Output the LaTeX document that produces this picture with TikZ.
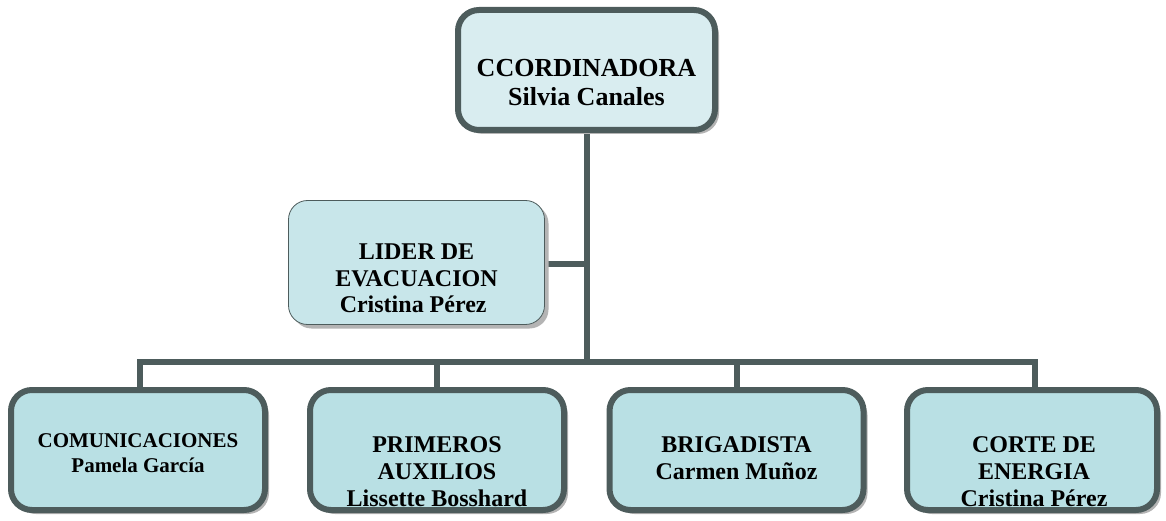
\documentclass[tikz,border=0pt]{standalone}
\usepackage{fontspec}
\setmainfont{Liberation Serif}
\usetikzlibrary{shadows,backgrounds}
\definecolor{edge}{HTML}{4D5C5C}
\definecolor{topfill}{HTML}{D9EDF0}
\definecolor{midfill}{HTML}{C8E6EA}
\definecolor{botfill}{HTML}{B9E0E4}
\definecolor{shade}{HTML}{B4B4B4}
\tikzset{
  boxshadow/.style={drop shadow={shadow xshift=4pt, shadow yshift=-4pt, fill=shade, opacity=1}},
  heavybox/.style={draw=edge, line width=6pt, rounded corners=21pt, boxshadow, inner sep=0pt},
  lightbox/.style={draw=edge, line width=0.8pt, rounded corners=19pt, boxshadow, fill=midfill, inner sep=0pt},
  label/.style={anchor=north, align=center, inner sep=0pt, font=\bfseries\fontsize{24}{27}\selectfont},
  link/.style={draw=edge, line width=6pt}
}
\begin{document}
\begin{tikzpicture}[x=1pt,y=-1pt]
\useasboundingbox (0,0) rectangle (1166,521);
% boxes
\node[heavybox, fill=topfill, minimum width=257pt, minimum height=120pt] (top) at (586.5,70) {};
\node[lightbox, minimum width=256pt, minimum height=124pt] (lider) at (416.5,262.5) {};
\node[heavybox, fill=botfill, minimum width=254pt, minimum height=120pt] (b1) at (138,450) {};
\node[heavybox, fill=botfill, minimum width=254pt, minimum height=120pt] (b2) at (437,450) {};
\node[heavybox, fill=botfill, minimum width=254pt, minimum height=120pt] (b3) at (736.5,450) {};
\node[heavybox, fill=botfill, minimum width=250pt, minimum height=120pt] (b4) at (1032,450) {};
% texts
\node[label, font=\bfseries\fontsize{26}{29}\selectfont] (tTop) at (586.5,59.5) {CCORDINADORA\\Silvia Canales};
\node[label, font=\bfseries\fontsize{24}{26.5}\selectfont] (tLider) at (416.5,244) {LIDER DE\\EVACUACION\\Cristina Pérez\hphantom{i}};
\node[label, font=\bfseries\fontsize{21}{25}\selectfont] (t1) at (138,433) {COMUNICACIONES\\Pamela García};
\node[label] (t2) at (437,436) {PRIMEROS\\AUXILIOS\\Lissette Bosshard};
\node[label] (t3) at (736.5,436) {BRIGADISTA\\Carmen Muñoz};
\node[label] (t4) at (1034,436) {CORTE DE\\ENERGIA\\Cristina Pérez};
% connectors
\begin{scope}[on background layer]
\coordinate (bus) at (587,362);
\coordinate (busL) at (140,362);
\coordinate (busR) at (1035,362);
\coordinate (tee) at (587,263.5);
\path[link] (top.south -| bus) -- (bus);
\path[link] (lider.east |- tee) -- (tee);
\path[link] ([xshift=-3pt]busL) -- ([xshift=3pt]busR);
\path[link] (busL) -- (b1.north -| busL);
\path[link] (b2.north |- bus) -- (b2.north);
\path[link] (b3.north |- bus) -- (b3.north);
\path[link] (busR) -- (b4.north -| busR);
\end{scope}
\end{tikzpicture}
\end{document}
